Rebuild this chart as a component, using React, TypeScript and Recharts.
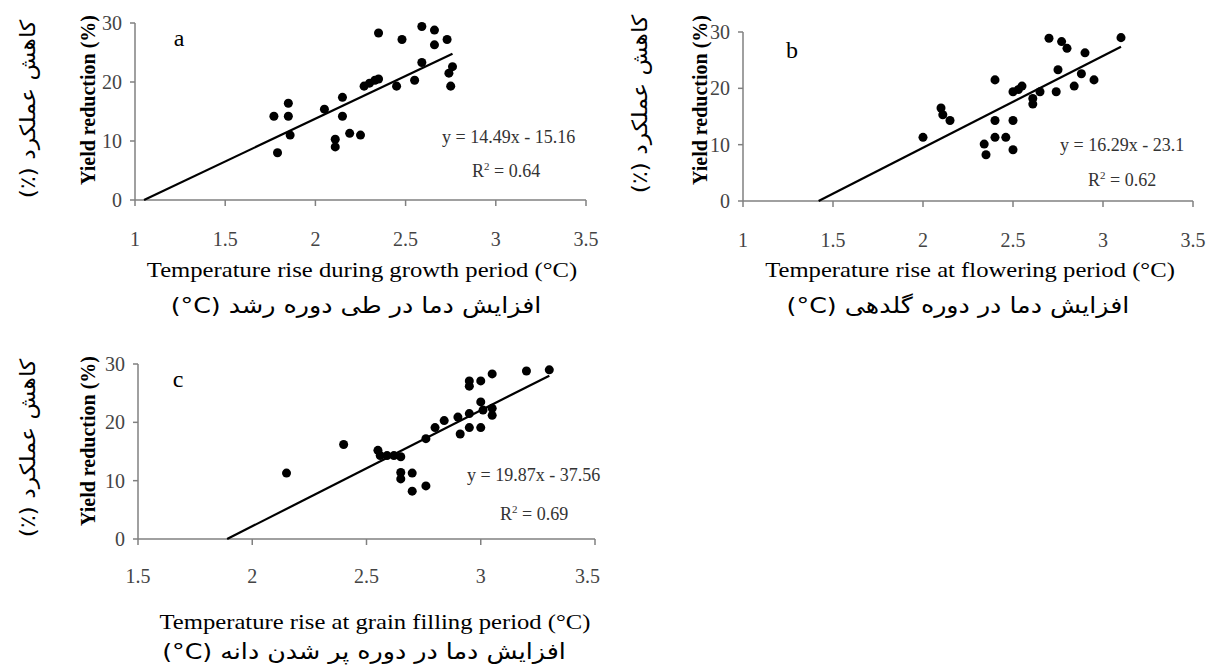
import React from 'react';
import { ScatterChart, Scatter, XAxis, YAxis } from 'recharts';

type Pt = { x: number; y: number };

// panel a: growth period
const growthRise = [1.77, 1.79, 1.85, 1.85, 1.86, 2.05, 2.11, 2.11, 2.15, 2.15, 2.19, 2.25, 2.27, 2.3, 2.33, 2.35, 2.35, 2.45, 2.48, 2.55, 2.59, 2.59, 2.66, 2.66, 2.73, 2.76, 2.74, 2.75];
const growthYield = [14.2, 8.0, 16.4, 14.2, 11.0, 15.4, 10.3, 9.0, 17.4, 14.2, 11.3, 11.0, 19.3, 19.8, 20.3, 28.3, 20.5, 19.3, 27.2, 20.3, 29.4, 23.3, 28.8, 26.3, 27.2, 22.6, 21.5, 19.3];
const growthTrend: Pt[] = [{ x: 1.05, y: 0 }, { x: 2.76, y: 24.8 }];

// panel b: flowering period
const flowerRise = [2.0, 2.1, 2.11, 2.15, 2.34, 2.35, 2.4, 2.4, 2.4, 2.46, 2.5, 2.5, 2.5, 2.53, 2.55, 2.61, 2.61, 2.65, 2.7, 2.74, 2.75, 2.77, 2.8, 2.84, 2.88, 2.9, 2.95, 3.1];
const flowerYield = [11.3, 16.5, 15.3, 14.3, 10.1, 8.2, 21.5, 14.3, 11.3, 11.3, 14.3, 9.1, 19.4, 19.8, 20.4, 18.2, 17.2, 19.4, 28.9, 19.4, 23.3, 28.3, 27.1, 20.4, 22.6, 26.3, 21.5, 29.0];
const flowerTrend: Pt[] = [{ x: 1.42, y: 0 }, { x: 3.1, y: 27.4 }];

// panel c: grain filling period
const fillRise = [2.15, 2.4, 2.55, 2.56, 2.59, 2.62, 2.65, 2.65, 2.65, 2.7, 2.7, 2.76, 2.76, 2.8, 2.84, 2.9, 2.91, 2.95, 2.95, 3.0, 3.0, 3.01, 3.05, 3.05, 2.95, 2.95, 3.0, 3.05, 3.2, 3.3];
const fillYield = [11.3, 16.2, 15.2, 14.3, 14.3, 14.3, 14.1, 11.4, 10.3, 11.3, 8.2, 9.1, 17.2, 19.1, 20.3, 20.9, 18.0, 21.5, 19.1, 19.1, 23.5, 22.1, 22.4, 21.2, 27.1, 26.2, 27.1, 28.3, 28.8, 29.0];
const fillTrend: Pt[] = [{ x: 1.89, y: 0 }, { x: 3.3, y: 28.0 }];

const xTicksAB = [1, 1.5, 2, 2.5, 3, 3.5];
const xTicksC = [1.5, 2, 2.5, 3, 3.5];
const yTicks = [0, 10, 20, 30];

const toPts = (xs: number[], ys: number[]): Pt[] => xs.map((x, i) => ({ x, y: ys[i] }));

const axisColor = '#808080';
const serif = '"Liberation Serif", "Times New Roman", serif';
const persian = '"DejaVu Sans", sans-serif';

interface PanelProps {
  left: number;
  top: number;
  width: number;
  height: number;
  margin: { top: number; right: number; left: number; bottom: number };
  xAxisHeight: number;
  xDomain: [number, number];
  xTicks: number[];
  xTickMargin: number;
  points: Pt[];
  trend: Pt[];
}

const Panel: React.FC<PanelProps> = (p) => (
  <div style={{ position: 'absolute', left: p.left, top: p.top }}>
    <ScatterChart width={p.width} height={p.height} margin={p.margin}>
      <XAxis
        type="number"
        dataKey="x"
        domain={p.xDomain}
        ticks={p.xTicks}
        height={p.xAxisHeight}
        tickSize={6}
        tickMargin={p.xTickMargin}
        axisLine={{ stroke: axisColor, strokeWidth: 1.5 }}
        tickLine={{ stroke: axisColor, strokeWidth: 1.5 }}
        tick={{ fill: '#444', fontSize: 20, fontFamily: serif }}
      />
      <YAxis
        type="number"
        dataKey="y"
        domain={[0, 30]}
        ticks={yTicks}
        width={40}
        tickSize={5}
        tickMargin={8}
        axisLine={{ stroke: axisColor, strokeWidth: 1.5 }}
        tickLine={{ stroke: axisColor, strokeWidth: 1.5 }}
        tick={{ fill: '#444', fontSize: 20, fontFamily: serif }}
      />
      <Scatter data={p.trend} line={{ stroke: '#000', strokeWidth: 2.2 }} shape={() => <g />} isAnimationActive={false} />
      <Scatter data={p.points} fill="#000" isAnimationActive={false} />
    </ScatterChart>
  </div>
);

interface TxtProps {
  x: number;
  y: number;
  size: number;
  rotate?: boolean;
  bold?: boolean;
  fa?: boolean;
  sx?: number;
  color?: string;
  anchor?: 'center' | 'left';
  children: React.ReactNode;
}

const Txt: React.FC<TxtProps> = ({ x, y, size, rotate, bold, fa, sx = 1, color, anchor = 'center', children }) => (
  <div
    dir={fa ? 'rtl' : 'ltr'}
    style={{
      position: 'absolute',
      left: x,
      top: y,
      transform: `translate(${anchor === 'center' ? '-50%' : '0'}, -50%)${rotate ? ' rotate(-90deg)' : ''} scaleX(${sx})`,
      transformOrigin: anchor === 'center' ? 'center' : 'left center',
      whiteSpace: 'nowrap',
      fontSize: size,
      fontWeight: bold ? 'bold' : 'normal',
      fontFamily: fa ? persian : serif,
      color: color ?? '#000',
      lineHeight: 1,
    }}
  >
    {children}
  </div>
);

const Deg = () => <span dir="ltr" style={{ unicodeBidi: 'isolate' }}>(°C)</span>;

export default function App() {
  return (
    <div style={{ position: 'absolute', left: 0, top: 0, width: 1208, height: 666, background: '#fff', overflow: 'hidden' }}>
      <Panel
        left={0} top={0} width={600} height={330}
        margin={{ top: 23, right: 14, left: 95, bottom: 0 }}
        xAxisHeight={130} xDomain={[1, 3.5]} xTicks={xTicksAB} xTickMargin={26}
        points={toPts(growthRise, growthYield)} trend={growthTrend}
      />
      <Panel
        left={600} top={0} width={608} height={330}
        margin={{ top: 32, right: 15, left: 103, bottom: 0 }}
        xAxisHeight={129} xDomain={[1, 3.5]} xTicks={xTicksAB} xTickMargin={26}
        points={toPts(flowerRise, flowerYield)} trend={flowerTrend}
      />
      <Panel
        left={0} top={330} width={600} height={336}
        margin={{ top: 34, right: 5, left: 98, bottom: 0 }}
        xAxisHeight={127} xDomain={[1.5, 3.5]} xTicks={xTicksC} xTickMargin={24}
        points={toPts(fillRise, fillYield)} trend={fillTrend}
      />

      {/* panel a */}
      <Txt x={179} y={38} size={24}>a</Txt>
      <Txt x={442} y={137} size={18} color="#333" anchor="left">y = 14.49x - 15.16</Txt>
      <Txt x={472} y={170} size={18} color="#333" anchor="left">R<sup style={{ fontSize: 11 }}>2</sup> = 0.64</Txt>
      <Txt x={88} y={100} size={20} bold rotate>Yield reduction (%)</Txt>
      <Txt x={28} y={109} size={21} sx={1.12} fa rotate>کاهش عملکرد (٪)</Txt>
      <Txt x={362} y={270} size={22} sx={1.12}>Temperature rise during growth period (°C)</Txt>
      <Txt x={356} y={306} size={22} sx={1.15} fa>افزایش دما در طی دوره رشد <Deg /></Txt>

      {/* panel b */}
      <Txt x={792} y={50} size={24}>b</Txt>
      <Txt x={1060} y={145} size={18} color="#333" anchor="left">y = 16.29x - 23.1</Txt>
      <Txt x={1088} y={179} size={18} color="#333" anchor="left">R<sup style={{ fontSize: 11 }}>2</sup> = 0.62</Txt>
      <Txt x={700} y={100} size={20} bold rotate>Yield reduction (%)</Txt>
      <Txt x={640} y={104} size={21} sx={1.12} fa rotate>کاهش عملکرد (٪)</Txt>
      <Txt x={970} y={270} size={22} sx={1.12}>Temperature rise at flowering period (°C)</Txt>
      <Txt x={958} y={306} size={22} sx={1.15} fa>افزایش دما در دوره گلدهی <Deg /></Txt>

      {/* panel c */}
      <Txt x={178} y={379} size={24}>c</Txt>
      <Txt x={467} y={475} size={18} color="#333" anchor="left">y = 19.87x - 37.56</Txt>
      <Txt x={500} y={513} size={18} color="#333" anchor="left">R<sup style={{ fontSize: 11 }}>2</sup> = 0.69</Txt>
      <Txt x={88} y={441} size={20} bold rotate>Yield reduction (%)</Txt>
      <Txt x={28} y={448} size={21} sx={1.12} fa rotate>کاهش عملکرد (٪)</Txt>
      <Txt x={375} y={622} size={22} sx={1.12}>Temperature rise at grain filling  period (°C)</Txt>
      <Txt x={364} y={652} size={22} sx={1.15} fa>افزایش دما در دوره پر شدن دانه <Deg /></Txt>
    </div>
  );
}
